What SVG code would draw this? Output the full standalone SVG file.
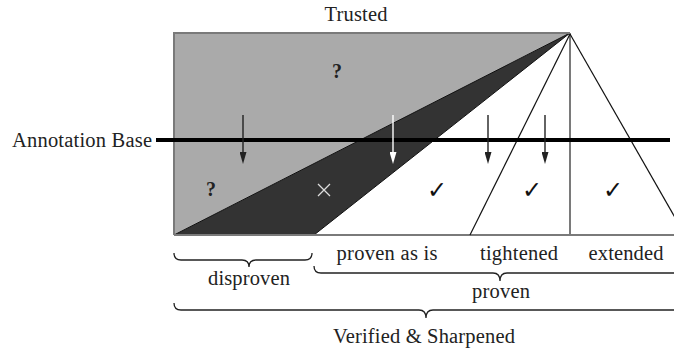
<svg xmlns="http://www.w3.org/2000/svg" width="674" height="348" viewBox="0 0 674 348">
<defs>
<style>
.t{font-family:"Liberation Serif","Times New Roman",serif;font-size:20.5px;fill:#222;text-anchor:middle}
.q{font-family:"Liberation Serif","Times New Roman",serif;font-size:20px;font-weight:bold;fill:#222;text-anchor:middle}
.ck{font-family:"DejaVu Sans",sans-serif;font-size:24px;font-weight:bold;fill:#111;text-anchor:middle}
.thin{stroke:#111;stroke-width:1.2;fill:none}
.gray{stroke:#7a7a7a;stroke-width:2;fill:none}
.brace{stroke:#222;stroke-width:1.3;fill:none}
.arr{stroke:#222;stroke-width:1.4}
.warr{stroke:#fff;stroke-width:1.4}
</style>
<marker id="ah" markerWidth="12" markerHeight="7" refX="2" refY="3.5" orient="auto" markerUnits="userSpaceOnUse" viewBox="0 0 12 7">
<path d="M0,0 L12,3.5 L0,7 Z" fill="#222"/>
</marker>
<marker id="wah" markerWidth="12" markerHeight="7" refX="2" refY="3.5" orient="auto" markerUnits="userSpaceOnUse" viewBox="0 0 12 7">
<path d="M0,0 L12,3.5 L0,7 Z" fill="#fff"/>
</marker>
</defs>
<rect width="674" height="348" fill="#fff"/>
<g id="regions">
<polygon points="174,33 570,33 174,235" fill="#aaaaaa"/>
<polygon points="570,33 174,235 314,235" fill="#333333" stroke="#111" stroke-width="1"/>
</g>
<g id="frame">
<path class="gray" d="M174,235 L174,33 L570,33"/>
<line class="gray" x1="570" y1="33" x2="570" y2="235"/>
<line class="gray" x1="174" y1="235" x2="674" y2="235"/>
<line class="thin" x1="570" y1="34" x2="470" y2="235"/>
<line class="thin" x1="570" y1="34" x2="685" y2="235"/>
</g>
<g id="annotation-base">
<line x1="156" y1="140" x2="670" y2="140" stroke="#000" stroke-width="4"/>
<text class="t" x="82" y="147" textLength="140">Annotation Base</text>
</g>
<g id="connectors">
<line class="arr" x1="243" y1="115" x2="243" y2="154" marker-end="url(#ah)"/>
<line class="warr" x1="393" y1="115" x2="393" y2="154" marker-end="url(#wah)"/>
<line class="arr" x1="488" y1="115" x2="488" y2="154" marker-end="url(#ah)"/>
<line class="arr" x1="545" y1="115" x2="545" y2="154" marker-end="url(#ah)"/>
</g>
<g id="labels">
<text class="t" x="356" y="21" textLength="63">Trusted</text>
<text class="q" x="337" y="78">?</text>
<text class="q" x="211" y="196">?</text>
<path d="M318,184 L330,196 M330,184 L318,196" stroke="#ddd" stroke-width="1.3"/>
<text class="ck" x="437" y="198">✓</text>
<text class="ck" x="532" y="198">✓</text>
<text class="ck" x="613" y="198">✓</text>
</g>
<g id="braces">
<path class="brace" d="M174,253 Q174,260 181,260 L242,260 Q249,260 249,267 Q249,260 256,260 L305,260 Q312,260 312,253"/>
<path class="brace" d="M314,266 Q314,273 321,273 L493,273 Q500,273 500,281 Q500,273 507,273 L680,273"/>
<path class="brace" d="M174,303 Q174,310 181,310 L419,310 Q426,310 426,318 Q426,310 433,310 L680,310"/>
</g>
<g id="bottom-labels">
<text class="t" x="387" y="260" textLength="101">proven as is</text>
<text class="t" x="519" y="260" textLength="78">tightened</text>
<text class="t" x="626" y="260" textLength="75">extended</text>
<text class="t" x="249" y="285" textLength="82">disproven</text>
<text class="t" x="501" y="298" textLength="58">proven</text>
<text class="t" x="424" y="343" textLength="182">Verified &amp; Sharpened</text>
</g>
</svg>
